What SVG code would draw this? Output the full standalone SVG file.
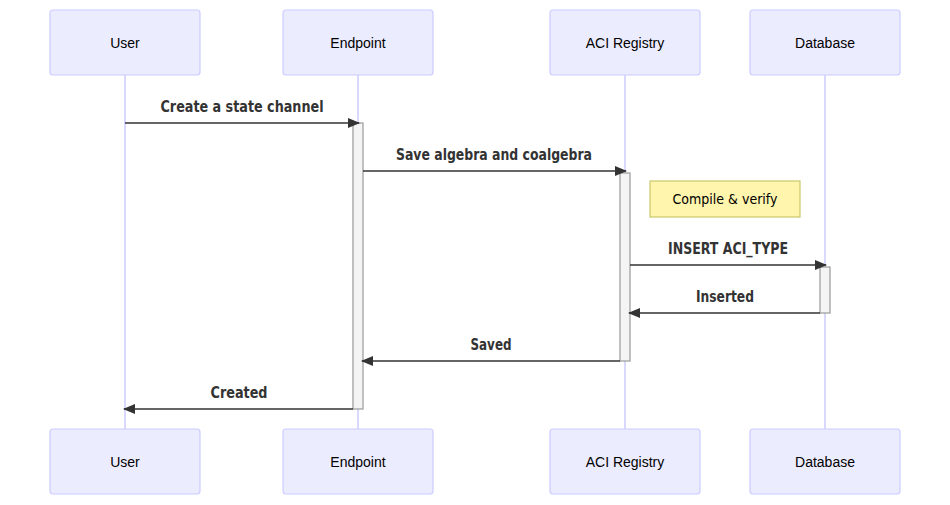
<svg xmlns="http://www.w3.org/2000/svg" width="950" height="505" viewBox="0 0 950 505">
<defs>
<marker id="arrow" viewBox="0 0 12 10" refX="11" refY="5" markerWidth="12" markerHeight="10" markerUnits="userSpaceOnUse" orient="auto">
<path d="M0,0 L12,5 L0,10 z" fill="#333"/>
</marker>
<style>
.actor{fill:#ECECFF;stroke:#CCCCFF;stroke-width:1.2}
.atext{font-family:"Liberation Sans",Arial,sans-serif;font-size:14px;fill:#000;text-anchor:middle;dominant-baseline:central}
.life{stroke:#CCCCFF;stroke-width:1.5}
.act{fill:#F4F4F4;stroke:#999;stroke-width:1.2}
.msg{stroke:#333;stroke-width:1.6;fill:none;marker-end:url(#arrow)}
.mtext{font-family:"DejaVu Sans Condensed","DejaVu Sans","Liberation Sans",sans-serif;font-size:16px;font-weight:bold;fill:#333;text-anchor:middle}
.note{fill:#FFF5AD;stroke:#C8C86A;stroke-width:1.2}
.ntext{font-family:"DejaVu Sans Condensed","DejaVu Sans",sans-serif;font-size:14px;fill:#000;text-anchor:middle}
</style>
</defs>
<rect width="950" height="505" fill="#fff"/>
<g id="lifelines">
<line class="life" x1="125" y1="75" x2="125" y2="429"/>
<line class="life" x1="358" y1="75" x2="358" y2="429"/>
<line class="life" x1="625" y1="75" x2="625" y2="429"/>
<line class="life" x1="825" y1="75" x2="825" y2="429"/>
</g>
<g id="user">
<rect class="actor" x="50" y="10" width="150" height="65" rx="3"/>
<text class="atext" x="125" y="43">User</text>
<rect class="actor" x="50" y="429" width="150" height="65" rx="3"/>
<text class="atext" x="125" y="462">User</text>
</g>
<g id="endpoint">
<rect class="actor" x="283" y="10" width="150" height="65" rx="3"/>
<text class="atext" x="358" y="43">Endpoint</text>
<rect class="actor" x="283" y="429" width="150" height="65" rx="3"/>
<text class="atext" x="358" y="462">Endpoint</text>
</g>
<g id="registry">
<rect class="actor" x="550" y="10" width="150" height="65" rx="3"/>
<text class="atext" x="625" y="43">ACI Registry</text>
<rect class="actor" x="550" y="429" width="150" height="65" rx="3"/>
<text class="atext" x="625" y="462">ACI Registry</text>
</g>
<g id="database">
<rect class="actor" x="750" y="10" width="150" height="65" rx="3"/>
<text class="atext" x="825" y="43">Database</text>
<rect class="actor" x="750" y="429" width="150" height="65" rx="3"/>
<text class="atext" x="825" y="462">Database</text>
</g>
<g id="activations">
<rect class="act" x="353" y="123" width="10" height="286"/>
<rect class="act" x="620" y="173" width="10" height="188"/>
<rect class="act" x="820" y="267" width="10" height="46"/>
</g>
<g id="note">
<rect class="note" x="650" y="181" width="150" height="36"/>
<text class="ntext" x="725" y="204" textLength="105" lengthAdjust="spacingAndGlyphs">Compile &amp; verify</text>
</g>
<g id="connectors">
<line class="msg" x1="125" y1="123" x2="359" y2="123"/>
<text class="mtext" x="242" y="112" textLength="163" lengthAdjust="spacingAndGlyphs">Create a state channel</text>
<line class="msg" x1="363" y1="171" x2="626" y2="171"/>
<text class="mtext" x="494" y="160" textLength="196" lengthAdjust="spacingAndGlyphs">Save algebra and coalgebra</text>
<line class="msg" x1="630" y1="265" x2="826" y2="265"/>
<text class="mtext" x="728" y="254" textLength="120" lengthAdjust="spacingAndGlyphs">INSERT ACI_TYPE</text>
<line class="msg" x1="820" y1="313" x2="629" y2="313"/>
<text class="mtext" x="725" y="302" textLength="58" lengthAdjust="spacingAndGlyphs">Inserted</text>
<line class="msg" x1="620" y1="361" x2="362" y2="361"/>
<text class="mtext" x="491" y="350" textLength="41" lengthAdjust="spacingAndGlyphs">Saved</text>
<line class="msg" x1="353" y1="409" x2="124" y2="409"/>
<text class="mtext" x="239" y="398" textLength="57" lengthAdjust="spacingAndGlyphs">Created</text>
</g>
</svg>
